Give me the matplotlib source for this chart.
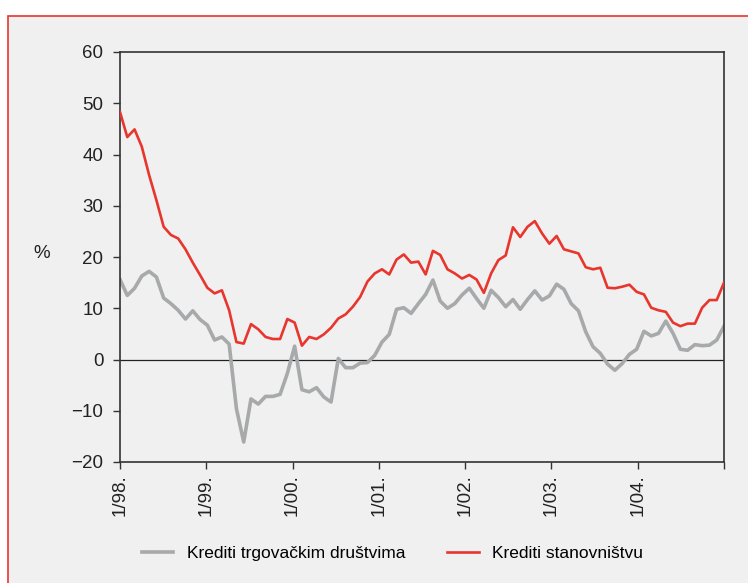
import matplotlib.pyplot as plt
import matplotlib.patches as patches
import numpy as np

plt.rcParams['font.family'] = ['Liberation Sans Narrow', 'Liberation Sans', 'DejaVu Sans']

# monthly growth rates, 1/98 - 12/04
poduzeca = [15.6, 12.5, 13.9, 16.3, 17.2, 16.1, 12.0, 10.9, 9.6, 7.9, 9.5, 7.8,
            6.7, 3.8, 4.4, 3.0, -9.6, -16.1, -7.7, -8.7, -7.2, -7.2, -6.8, -2.7,
            2.6, -5.9, -6.3, -5.5, -7.3, -8.3, 0.2, -1.6, -1.6, -0.7, -0.6, 0.8,
            3.4, 4.9, 9.8, 10.1, 9.0, 10.9, 12.7, 15.5, 11.4, 10.0, 10.9, 12.6,
            13.9, 11.9, 10.0, 13.5, 12.1, 10.3, 11.7, 9.8, 11.7, 13.4, 11.6, 12.4,
            14.7, 13.7, 10.9, 9.5, 5.4, 2.5, 1.2, -0.9, -2.1, -0.8, 1.0, 2.0,
            5.5, 4.6, 5.1, 7.5, 5.1, 2.0, 1.8, 2.9, 2.7, 2.8, 3.8, 6.5]
stanovnistvo = [48.3, 43.4, 44.9, 41.5, 36.0, 31.1, 25.9, 24.3, 23.6, 21.5, 18.9, 16.5,
                14.0, 12.9, 13.5, 9.6, 3.4, 3.1, 6.9, 5.9, 4.4, 4.0, 4.0, 7.9,
                7.2, 2.7, 4.4, 4.0, 4.9, 6.2, 8.0, 8.8, 10.3, 12.2, 15.2, 16.8,
                17.6, 16.6, 19.5, 20.5, 18.9, 19.1, 16.6, 21.2, 20.4, 17.6, 16.8, 15.8,
                16.5, 15.6, 13.0, 16.8, 19.4, 20.3, 25.8, 23.9, 25.9, 27.0, 24.6, 22.6,
                24.1, 21.5, 21.1, 20.7, 18.0, 17.6, 17.9, 14.0, 13.9, 14.2, 14.6, 13.2,
                12.7, 10.1, 9.6, 9.3, 7.2, 6.5, 7.0, 7.0, 10.1, 11.6, 11.6, 15.0]
godine = ['1/98.', '1/99.', '1/00.', '1/01.', '1/02.', '1/03.', '1/04.', '']

bg = '#eff0ef'
crvena = '#e8352e'
siva = '#a8a9ab'

fig = plt.figure(figsize=(7.48, 5.83), dpi=100, facecolor='white')
# red frame around the chart area
okvir = patches.Rectangle((8 / 748, -0.1), 2, 0.1 + 1 - 16 / 583, transform=fig.transFigure,
                          facecolor=bg, edgecolor=crvena, lw=1.2, zorder=-1)
fig.patches.append(okvir)

ax = fig.add_axes([120 / 748, 1 - 462 / 583, 604 / 748, 410 / 583])
ax.set_facecolor(bg)

x = np.arange(len(stanovnistvo))
ax.axhline(0, color='#222222', lw=0.9, zorder=1)
ax.plot(x, poduzeca, color=siva, lw=2.6, label='Krediti trgovačkim društvima', zorder=2)
ax.plot(x, stanovnistvo, color=crvena, lw=1.9, label='Krediti stanovništvu', zorder=3)

ax.set_xlim(0, len(x) - 1)
ax.set_ylim(-20, 60)
ax.set_yticks(range(-20, 61, 10))
ax.set_yticklabels(['\u221220', '\u221210', '0', '10', '20', '30', '40', '50', '60'])
ax.set_xticks(np.linspace(0, len(x) - 1, len(godine)))
ax.set_xticklabels(godine, rotation=90, va='top', ha='center')

for s in ax.spines.values():
    s.set_color('#333333')
    s.set_linewidth(1.2)
ax.tick_params(axis='both', direction='out', length=5, width=1, color='#333333',
               labelsize=13.5, labelcolor='#222222')
ax.tick_params(axis='y', pad=7)
ax.tick_params(axis='x', pad=4)

fig.text(33 / 748, 1 - 253 / 583, '%', fontsize=13.5, color='#222222', ha='left', va='center')

fig.legend(loc='center', bbox_to_anchor=(0.525, 1 - 553 / 583), ncol=2, frameon=False,
           fontsize=12.5, handlelength=1.8, columnspacing=2.4, handletextpad=0.8)

fig.savefig('out.png', dpi=100, facecolor='white')
